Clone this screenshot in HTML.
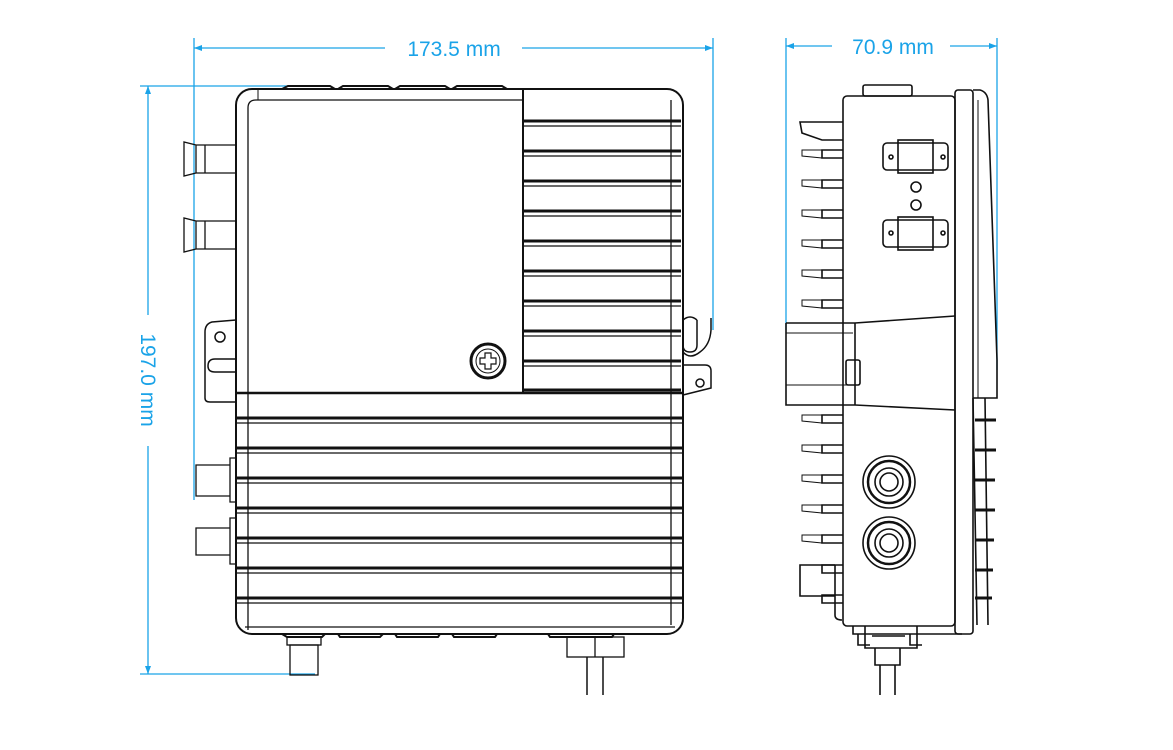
<!DOCTYPE html>
<html><head><meta charset="utf-8"><style>
html,body{margin:0;padding:0;background:#fff}
svg{display:block}
text{font-family:"Liberation Sans",sans-serif;font-size:21px;fill:#1aa3e8}
</style></head><body>
<svg width="1173" height="750" viewBox="0 0 1173 750" xmlns="http://www.w3.org/2000/svg">
<!-- dimension lines -->
<g stroke="#1aa3e8" stroke-width="1.3" fill="none">
<line x1="194" y1="38" x2="194" y2="500"/>
<line x1="713" y1="38" x2="713" y2="330"/>
<line x1="194" y1="48" x2="385" y2="48"/>
<line x1="522" y1="48" x2="713" y2="48"/>
<line x1="140" y1="86" x2="320" y2="86"/>
<line x1="140" y1="674" x2="315" y2="674"/>
<line x1="148" y1="86" x2="148" y2="315"/>
<line x1="148" y1="446" x2="148" y2="674"/>
<line x1="786" y1="38" x2="786" y2="330"/>
<line x1="997" y1="38" x2="997" y2="370"/>
<line x1="786" y1="46" x2="832" y2="46"/>
<line x1="950" y1="46" x2="997" y2="46"/>
</g>
<g fill="#1aa3e8">
<polygon points="194,48 202,45 202,51"/><polygon points="713,48 705,45 705,51"/>
<polygon points="148,86 145,94 151,94"/><polygon points="148,674 145,666 151,666"/>
<polygon points="786,46 794,43 794,49"/><polygon points="997,46 989,43 989,49"/>
</g>
<text x="454" y="56" text-anchor="middle">173.5 mm</text>
<text x="893" y="54" text-anchor="middle">70.9 mm</text>
<text transform="translate(141,380) rotate(90)" text-anchor="middle">197.0 mm</text>

<!-- FRONT VIEW -->
<g stroke="#111" stroke-width="2" fill="none">
<!-- top nubs -->
<path d="M282 89 L288 86 H330 L335 89 M338 89 L343 86 H388 L393 89 M395 89 L400 86 H445 L450 89 M452 89 L457 86 H502 L507 89"/>
<rect x="236" y="89" width="447" height="545" rx="16"/>
<path d="M248 393 V108 Q248 100 256 100 H523" stroke-width="1.3"/>
<line x1="258" y1="89" x2="258" y2="100" stroke-width="1"/>
<line x1="523" y1="89" x2="523" y2="393"/>
<line x1="236" y1="393" x2="683" y2="393" stroke-width="2.5"/>
<line x1="248" y1="393" x2="248" y2="630" stroke-width="1.3"/>
<line x1="671" y1="100" x2="671" y2="625" stroke-width="1.3"/>
<!-- bottom nubs -->
<path d="M282 634 L287 637 H322 L325 634 M338 634 L340 637 H380 L383 634 M395 634 L397 637 H438 L440 634 M452 634 L454 637 H495 L497 634 M548 634 L550 637 H612 L614 634"/>
<!-- bottom connectors -->
<rect x="287" y="637" width="34" height="8" stroke-width="1.3"/>
<rect x="290" y="645" width="28" height="30" stroke-width="1.3"/>
<rect x="567" y="637" width="57" height="20" stroke-width="1.3"/>
<line x1="595" y1="637" x2="595" y2="657" stroke-width="1.3"/>
<line x1="587" y1="657" x2="587" y2="695" stroke-width="1.5"/>
<line x1="603" y1="657" x2="603" y2="695" stroke-width="1.5"/>
<!-- left top connectors -->
<path d="M236 145 H205 V173 H236 M205 145 H196 V173 H205 M196 145 L184 142 V176 L196 173" stroke-width="1.3"/>
<path d="M236 221 H205 V249 H236 M205 221 H196 V249 H205 M196 221 L184 218 V252 L196 249" stroke-width="1.3"/>
<!-- left bracket -->
<path d="M236 320 L212 322 Q205 324 205 332 V398 Q205 402 210 402 H236" stroke-width="1.5"/>
<circle cx="220" cy="337" r="5" stroke-width="1.5"/>
<path d="M236 359 H215 Q208 359 208 366 Q208 372 215 372 H236" stroke-width="1.5"/>
<!-- right bracket -->
<path d="M683 320 V345 Q683 352 690 352 Q697 352 697 345 V320 M683 320 Q690 314 697 320" stroke-width="1.5"/>
<path d="M683 352 Q690 360 700 352 Q710 345 711 330 V318" stroke-width="1.5"/>
<path d="M683 365 H705 Q711 365 711 371 V388 L683 395" stroke-width="1.5"/>
<circle cx="700" cy="383" r="4" stroke-width="1.5"/>
<!-- screw -->
<circle cx="488" cy="361" r="17" stroke-width="3"/>
<circle cx="488" cy="361" r="12" stroke-width="1"/>
<path d="M485 353 h6 v5 h5 v6 h-5 v5 h-6 v-5 h-5 v-6 h5z" stroke-width="1.2"/>
<!-- right lower connectors -->
<path d="M236 458 H230 V502 H236 M230 465 H196 V496 H230" stroke-width="1.3"/>
<path d="M236 518 H230 V564 H236 M230 528 H196 V555 H230" stroke-width="1.3"/>
</g>
<!-- upper right fins -->
<g stroke="#111" fill="none">
<g stroke-width="3">
<line x1="523" y1="121" x2="681" y2="121"/><line x1="523" y1="151" x2="681" y2="151"/>
<line x1="523" y1="181" x2="681" y2="181"/><line x1="523" y1="211" x2="681" y2="211"/>
<line x1="523" y1="241" x2="681" y2="241"/><line x1="523" y1="271" x2="681" y2="271"/>
<line x1="523" y1="301" x2="681" y2="301"/><line x1="523" y1="331" x2="681" y2="331"/>
<line x1="523" y1="361" x2="681" y2="361"/><line x1="523" y1="390" x2="681" y2="390"/>
</g>
<g stroke-width="1.2">
<line x1="523" y1="126" x2="681" y2="126"/><line x1="523" y1="156" x2="681" y2="156"/>
<line x1="523" y1="186" x2="681" y2="186"/><line x1="523" y1="216" x2="681" y2="216"/>
<line x1="523" y1="246" x2="681" y2="246"/><line x1="523" y1="276" x2="681" y2="276"/>
<line x1="523" y1="306" x2="681" y2="306"/><line x1="523" y1="336" x2="681" y2="336"/>
<line x1="523" y1="366" x2="681" y2="366"/>
</g>
<!-- lower fins -->
<g stroke-width="3">
<line x1="236" y1="418" x2="683" y2="418"/><line x1="236" y1="448" x2="683" y2="448"/>
<line x1="236" y1="478" x2="683" y2="478"/><line x1="236" y1="508" x2="683" y2="508"/>
<line x1="236" y1="538" x2="683" y2="538"/><line x1="236" y1="568" x2="683" y2="568"/>
<line x1="236" y1="598" x2="683" y2="598"/>
</g>
<g stroke-width="1.2">
<line x1="236" y1="423" x2="683" y2="423"/><line x1="236" y1="453" x2="683" y2="453"/>
<line x1="236" y1="483" x2="683" y2="483"/><line x1="236" y1="513" x2="683" y2="513"/>
<line x1="236" y1="543" x2="683" y2="543"/><line x1="236" y1="573" x2="683" y2="573"/>
<line x1="236" y1="603" x2="683" y2="603"/><line x1="245" y1="627" x2="675" y2="627"/>
</g>
</g>

<!-- SIDE VIEW -->
<g stroke="#111" stroke-width="1.6" fill="none">
<rect x="863" y="85" width="49" height="11" rx="2"/>
<rect x="843" y="96" width="112" height="530" rx="4"/>
<rect x="955" y="90" width="18" height="544" rx="3"/>
<path d="M973 90 H980 Q987 92 988 100 L997 360 V398 H973"/>
<line x1="978" y1="100" x2="978" y2="398" stroke-width="1"/>
<!-- fins top -->
<path d="M843 122 H800 L802 133 L822 140 H843"/>
<path d="M843 150 H822 V158 H843 M843 180 H822 V188 H843 M843 210 H822 V218 H843 M843 240 H822 V248 H843 M843 270 H822 V278 H843 M843 300 H822 V308 H843"/>
<path d="M822 150 H802 V156 L822 158 M822 180 H802 V186 L822 188 M822 210 H802 V216 L822 218 M822 240 H802 V246 L822 248 M822 270 H802 V276 L822 278 M822 300 H802 V306 L822 308" stroke-width="1"/>
<!-- fins bottom -->
<path d="M843 415 H822 V423 H843 M843 445 H822 V453 H843 M843 475 H822 V483 H843 M843 505 H822 V513 H843 M843 535 H822 V543 H843 M843 565 H822 V573 H843 M843 595 H822 V603 H843"/>
<path d="M822 415 H802 V421 L822 423 M822 445 H802 V451 L822 453 M822 475 H802 V481 L822 483 M822 505 H802 V511 L822 513 M822 535 H802 V541 L822 543" stroke-width="1"/>
<path d="M835 565 H800 V596 H835 V565 M835 596 V615 Q835 620 842 620"/>
<!-- middle bracket -->
<path d="M786 323 H855 L955 316 M786 323 V405 H855 L955 410"/>
<line x1="786" y1="333" x2="853" y2="333" stroke-width="1"/>
<line x1="786" y1="385" x2="853" y2="385" stroke-width="1"/>
<line x1="855" y1="323" x2="855" y2="405"/>
<rect x="846" y="360" width="14" height="25" rx="2"/>
<!-- rectangles top -->
<rect x="883" y="143" width="65" height="27" rx="4"/>
<rect x="898" y="140" width="35" height="33"/>
<circle cx="891" cy="157" r="2"/><circle cx="943" cy="157" r="2"/>
<circle cx="916" cy="187" r="5"/><circle cx="916" cy="205" r="5"/>
<rect x="883" y="220" width="65" height="27" rx="4"/>
<rect x="898" y="217" width="35" height="33"/>
<circle cx="891" cy="233" r="2"/><circle cx="943" cy="233" r="2"/>
<!-- glands -->
<circle cx="889" cy="482" r="26"/><circle cx="889" cy="482" r="21" stroke-width="2.5"/><circle cx="889" cy="482" r="14"/><circle cx="889" cy="482" r="9"/>
<circle cx="889" cy="543" r="26"/><circle cx="889" cy="543" r="21" stroke-width="2.5"/><circle cx="889" cy="543" r="14"/><circle cx="889" cy="543" r="9"/>
<!-- right small fins -->
<path d="M973 398 L977 625 M985 398 L988 625"/>
<path d="M975 420 H996 M975 450 H996 M975 480 H995 M975 510 H995 M975 540 H994 M975 570 H993 M975 598 H992" stroke-width="3"/>
<!-- bottom connector -->
<path d="M853 626 V634 H962 M865 626 V648 H917 V626 M858 634 V645 H870 M910 634 V645 H922 M872 636 H905 M875 648 V665 H900 V648 M880 665 V695 M895 665 V695"/>
</g>
</svg>
</body></html>
